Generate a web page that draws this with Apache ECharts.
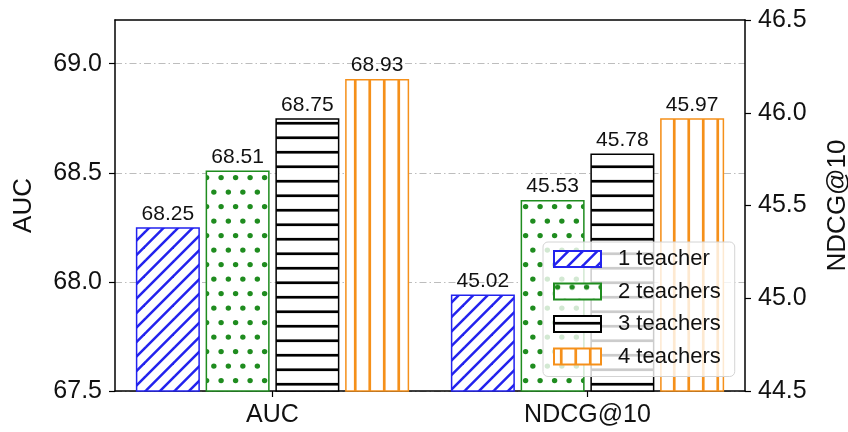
<!DOCTYPE html>
<html>
<head>
<meta charset="utf-8">
<script src="https://cdn.jsdelivr.net/npm/echarts@6/dist/echarts.min.js"></script>
<style>
html,body{margin:0;padding:0;background:#fff;}
#chart{width:848px;height:432px;}
</style>
</head>
<body>
<div id="chart"></div>
<script>
const categories = ['AUC', 'NDCG@10'];
const seriesNames = ['1 teacher', '2 teachers', '3 teachers', '4 teachers'];
const aucValues = [68.25, 68.51, 68.75, 68.93];
const ndcgValues = [45.02, 45.53, 45.78, 45.97];
const aucTicks = [67.5, 68.0, 68.5, 69.0];
const ndcgTicks = [44.5, 45.0, 45.5, 46.0, 46.5];

const colors = ['#2222ee', '#1f8c1f', '#000000', '#f5901a'];
const FONT = 'Liberation Sans, Arial, Helvetica, sans-serif';

function makePattern(kind, color) {
  const s = 29;
  const c = document.createElement('canvas');
  c.width = s; c.height = s;
  const g = c.getContext('2d');
  g.fillStyle = '#ffffff';
  g.fillRect(0, 0, s, s);
  g.strokeStyle = color;
  g.fillStyle = color;
  const p = s / 2;
  if (kind === 'diag') {
    g.lineWidth = 2.5;
    for (let k = -2; k <= 6; k++) {
      const cc = k * p;
      g.beginPath();
      g.moveTo(cc - s, s * 2);
      g.lineTo(cc + s * 2, -s);
      g.stroke();
    }
  } else if (kind === 'dots') {
    const pts = [[3.6, 3.6], [3.6 + p, 3.6], [3.6 + p / 2, 3.6 + p], [3.6 + p * 1.5, 3.6 + p]];
    pts.forEach(([x, y]) => {
      g.beginPath(); g.arc(x, y, 2.7, 0, Math.PI * 2); g.fill();
    });
  } else if (kind === 'hlines') {
    g.lineWidth = 2.7;
    [p / 2, p * 1.5].forEach(y => {
      g.beginPath(); g.moveTo(0, y); g.lineTo(s, y); g.stroke();
    });
  } else if (kind === 'vlines') {
    g.lineWidth = 2.7;
    [p / 2, p * 1.5].forEach(x => {
      g.beginPath(); g.moveTo(x, 0); g.lineTo(x, s); g.stroke();
    });
  }
  return { image: c, repeat: 'repeat' };
}
const kinds = ['diag', 'dots', 'hlines', 'vlines'];
const patterns = kinds.map((k, i) => makePattern(k, colors[i]));

const series = [];
seriesNames.forEach((name, i) => {
  const common = {
    name: name,
    type: 'bar',
    barWidth: 64,
    barGap: '9%',
    itemStyle: { color: patterns[i], borderColor: colors[i], borderWidth: 1.5 },
    label: {
      show: true, position: 'top', distance: 3,
      fontFamily: FONT, fontSize: 21, color: '#111',
      formatter: p => Number(p.value).toFixed(2)
    }
  };
  series.push(Object.assign({}, common, {
    xAxisIndex: 0, yAxisIndex: 0,
    data: [aucValues[i], '-']
  }));
  series.push(Object.assign({}, common, {
    xAxisIndex: 1, yAxisIndex: 1,
    data: ['-', ndcgValues[i]]
  }));
});

const chart = echarts.init(document.getElementById('chart'));
chart.setOption({
  animation: false,
  backgroundColor: '#ffffff',
  grid: { left: 115, right: 103, top: 20, bottom: 41, outerBoundsMode: 'none', containLabel: false },
  legend: {
    data: seriesNames,
    orient: 'vertical',
    left: 543, top: 242,
    itemWidth: 47, itemHeight: 16, itemGap: 10.5,
    padding: [6, 14, 9, 10],
    icon: 'rect',
    backgroundColor: 'rgba(255,255,255,0.8)',
    borderColor: '#d4d4d4', borderWidth: 1, borderRadius: 5,
    textStyle: { fontFamily: FONT, fontSize: 22, color: '#111', padding: [0, 0, 0, 12] }
  },
  xAxis: [
    {
      type: 'category', data: categories, position: 'bottom',
      axisLine: { show: true, lineStyle: { color: '#000', width: 1.5 } },
      axisTick: { show: true, alignWithLabel: true, length: 6, lineStyle: { color: '#000', width: 1.2 } },
      axisLabel: { fontFamily: FONT, fontSize: 25, color: '#111', margin: 12 },
      splitLine: { show: false }
    },
    {
      type: 'category', data: categories, position: 'top',
      axisLine: { show: true, lineStyle: { color: '#000', width: 1.5 } },
      axisTick: { show: false },
      axisLabel: { show: false },
      splitLine: { show: false }
    }
  ],
  yAxis: [
    {
      type: 'value', position: 'left',
      min: 67.5, max: 69.2, interval: 0.5,
      name: 'AUC', nameLocation: 'middle', nameGap: 78, nameRotate: 90,
      nameTextStyle: { fontFamily: FONT, fontSize: 26, color: '#111' },
      axisLine: { show: true, lineStyle: { color: '#000', width: 1.5 } },
      axisTick: { show: true, length: 6, customValues: aucTicks, lineStyle: { color: '#000', width: 1.2 } },
      axisLabel: {
        fontFamily: FONT, fontSize: 25, color: '#111', margin: 13,
        customValues: aucTicks,
        formatter: v => Number(v).toFixed(1)
      },
      splitLine: { show: true, lineStyle: { color: '#bdbdbd', width: 1, type: [7, 3, 1.5, 3] } }
    },
    {
      type: 'value', position: 'right',
      min: 44.5, max: 46.5, interval: 0.5,
      name: 'NDCG@10', nameLocation: 'middle', nameGap: 80, nameRotate: 90,
      nameTextStyle: { fontFamily: FONT, fontSize: 26, color: '#111' },
      axisLine: { show: true, lineStyle: { color: '#000', width: 1.5 } },
      axisTick: { show: true, length: 6, lineStyle: { color: '#000', width: 1.2 } },
      axisLabel: {
        fontFamily: FONT, fontSize: 25, color: '#111', margin: 13,
        formatter: v => Number(v).toFixed(1)
      },
      splitLine: { show: false }
    }
  ],
  series: series
});
</script>
</body>
</html>
